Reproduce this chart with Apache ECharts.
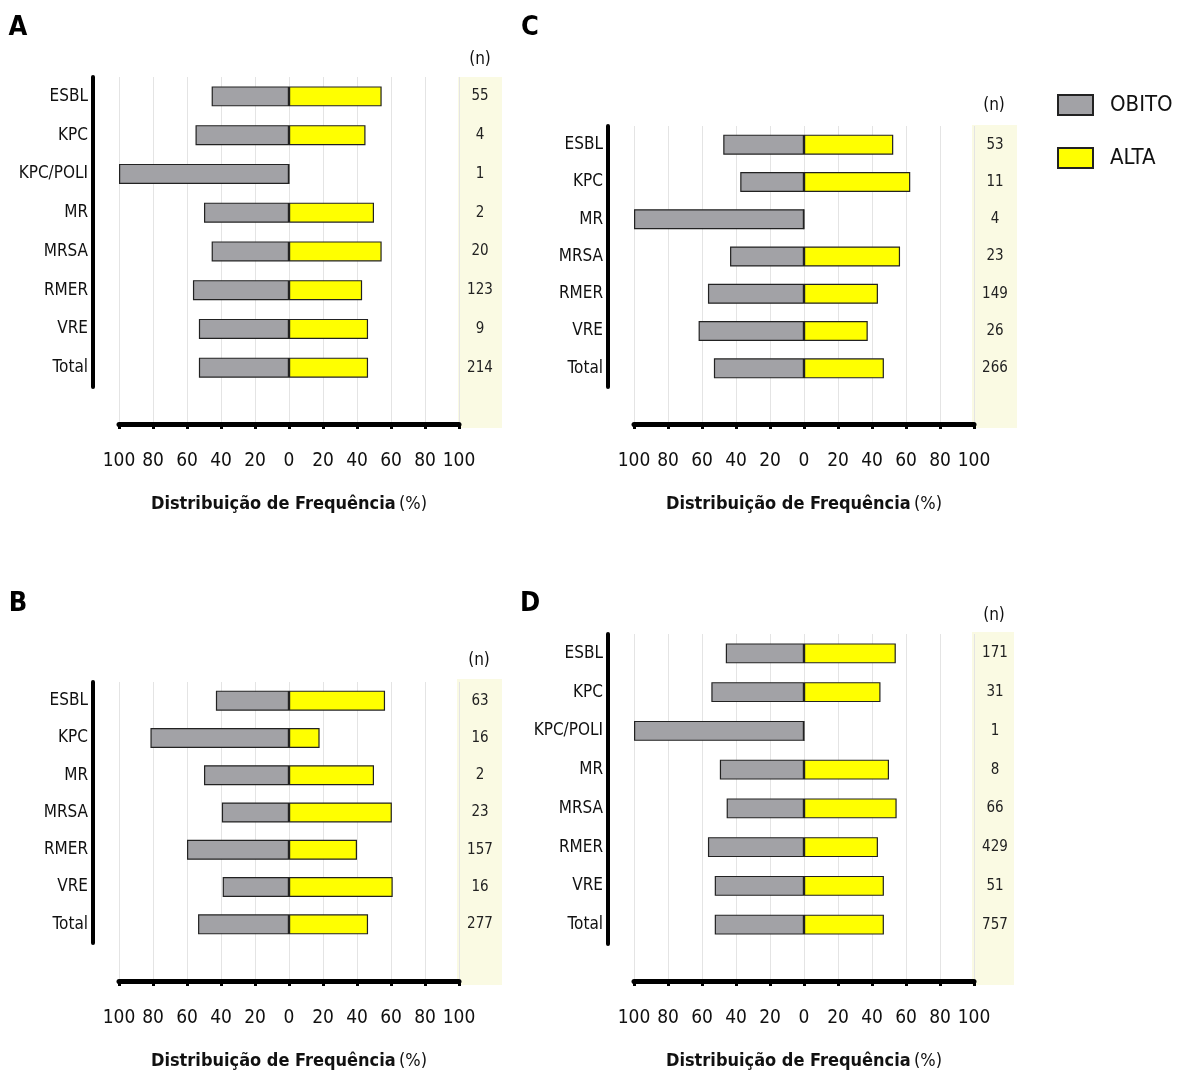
<!DOCTYPE html>
<html><head><meta charset="utf-8">
<script src="https://cdn.jsdelivr.net/npm/echarts@6/dist/echarts.min.js"></script>
<style>html,body{margin:0;padding:0;background:#fff}#c{width:1180px;height:1077px}</style>
</head><body><div id="c"></div>
<script>
// ---------- DATA ----------
const catsA = ['ESBL','KPC','KPC/POLI','MR','MRSA','RMER','VRE','Total'];
const obitoA = [45.5, 55, 100, 50, 45.5, 56.5, 53, 53];
const altaA  = [54.5, 45, 0, 50, 54.5, 43, 46.5, 46.5];
const nA     = [55, 4, 1, 2, 20, 123, 9, 214];

const catsB = ['ESBL','KPC','MR','MRSA','RMER','VRE','Total'];
const obitoB = [43, 81.5, 50, 39.5, 60, 39, 53.5];
const altaB  = [56.5, 18, 50, 60.5, 40, 61, 46.5];
const nB     = [63, 16, 2, 23, 157, 16, 277];

const catsC = ['ESBL','KPC','MR','MRSA','RMER','VRE','Total'];
const obitoC = [47.5, 37.5, 100, 43.5, 56.5, 62, 53];
const altaC  = [52.5, 62.5, 0, 56.5, 43.5, 37.5, 47];
const nC     = [53, 11, 4, 23, 149, 26, 266];

const catsD = ['ESBL','KPC','KPC/POLI','MR','MRSA','RMER','VRE','Total'];
const obitoD = [46, 54.5, 100, 49.5, 45.5, 56.5, 52.5, 52.5];
const altaD  = [54, 45, 0, 50, 54.5, 43.5, 47, 47];
const nD     = [171, 31, 1, 8, 66, 429, 51, 757];

const xTicks = [-100, 100, 20]; // min, max, interval
const seriesNames = ['OBITO', 'ALTA'];
const axisTitle = ['Distribuição de Frequência', '(%)'];

// ---------- LAYOUT ----------
const FONT = "'Liberation Sans Narrow','DejaVu Sans Condensed','Arial Narrow',sans-serif";
const GRAY = '#a2a2a6', YEL = '#ffff00', EDGE = '#222';

const panels = [
  {letter:'A', cats:catsA, ob:obitoA, al:altaA, n:nA, left:119, top:77, h:310, axisY:424, shade:[458,77,44,351], nHead:[480,60], lt:[18,28]},
  {letter:'B', cats:catsB, ob:obitoB, al:altaB, n:nB, left:119, top:682, h:261, axisY:981, shade:[457,679,45,306], nHead:[479,661], lt:[18,604]},
  {letter:'C', cats:catsC, ob:obitoC, al:altaC, n:nC, left:634, top:126, h:261, axisY:424, shade:[972,125,45,303], nHead:[994,106], lt:[530,28]},
  {letter:'D', cats:catsD, ob:obitoD, al:altaD, n:nD, left:634, top:634, h:310, axisY:981, shade:[972,632,42,353], nHead:[994,616], lt:[530,604]}
];

const grid = [], xAxis = [], yAxis = [], series = [], graphic = [];
panels.forEach(p => {
  const gMain = grid.length;
  grid.push({left:p.left, top:p.top, width:340, height:p.h, containLabel:false});
  const gLow = grid.length;
  grid.push({left:p.left, top:p.top+p.h, width:340, height:p.axisY-(p.top+p.h)});
  const gShade = grid.length;
  grid.push({left:p.shade[0], top:p.shade[1], width:p.shade[2], height:p.shade[3], show:true, backgroundColor:'#fafae3', borderWidth:0});

  // main grid axes
  const xMain = xAxis.length;
  xAxis.push({gridIndex:gMain, type:'value', min:xTicks[0], max:xTicks[1], interval:xTicks[2],
    axisLine:{show:false}, axisTick:{show:false}, axisLabel:{show:false},
    splitLine:{show:true, lineStyle:{color:'#e4e4e4', width:1}}});
  const yMain = yAxis.length;
  yAxis.push({gridIndex:gMain, type:'category', data:p.cats, inverse:true, offset:26, position:'left',
    axisLine:{show:true, onZero:false, lineStyle:{color:'#000', width:4}}, axisTick:{show:false},
    axisLabel:{color:'#111', fontSize:17, fontFamily:FONT, margin:5}, splitLine:{show:false}});
  yAxis.push({gridIndex:gMain, type:'category', data:p.cats, inverse:true, position:'right',
    axisLine:{show:false, onZero:false}, axisTick:{show:false},
    axisLabel:{color:'#222', fontSize:15, fontFamily:FONT, margin:21, align:'center',
      formatter:(v, i) => String(p.n[i])}});

  // lower grid: bottom axis
  xAxis.push({gridIndex:gLow, type:'value', min:xTicks[0], max:xTicks[1], interval:xTicks[2], position:'bottom',
    axisLine:{show:true, lineStyle:{color:'#000', width:5}},
    axisTick:{show:true, length:5, lineStyle:{color:'#000', width:3}},
    minorTick:{show:true, splitNumber:2, length:3, lineStyle:{color:'#000', width:2}},
    axisLabel:{color:'#111', fontSize:19, fontFamily:FONT, margin:28, formatter:v => String(Math.abs(v))},
    splitLine:{show:true, lineStyle:{color:'#e4e4e4', width:1}},
    name:'{b|' + axisTitle[0] + '} {r|' + axisTitle[1] + '}', nameLocation:'middle', nameGap:71,
    nameTextStyle:{rich:{b:{fontWeight:'bold', fontSize:18, fontFamily:FONT, color:'#111'},
                         r:{fontSize:18, fontFamily:FONT, color:'#111'}}}});
  yAxis.push({gridIndex:gLow, type:'value', show:false});

  // shade grid (hidden axes)
  xAxis.push({gridIndex:gShade, type:'value', show:false});
  yAxis.push({gridIndex:gShade, type:'value', show:false});

  series.push({name:seriesNames[0], type:'bar', xAxisIndex:xMain, yAxisIndex:yMain,
    data:p.ob.map(v => -v), barWidth:20, barGap:'-100%',
    itemStyle:{color:GRAY, borderColor:EDGE, borderWidth:1.2}});
  series.push({name:seriesNames[1], type:'bar', xAxisIndex:xMain, yAxisIndex:yMain,
    data:p.al, barWidth:20, barGap:'-100%',
    itemStyle:{color:YEL, borderColor:EDGE, borderWidth:1.2}});

  graphic.push({type:'text', x:p.nHead[0], y:p.nHead[1], style:{text:'(n)', align:'center', verticalAlign:'middle',
    font:"17px " + FONT, fill:'#111'}});
  graphic.push({type:'text', x:p.lt[0], y:p.lt[1], style:{text:p.letter, align:'center', verticalAlign:'middle',
    font:"bold 27px " + FONT, fill:'#000'}});
});

const chart = echarts.init(document.getElementById('c'), null, {renderer:'canvas'});
chart.setOption({
  animation:false,
  backgroundColor:'#fff',
  grid, xAxis, yAxis, series, graphic,
  legend:{data:seriesNames, orient:'vertical', left:1052, top:89, itemWidth:35, itemHeight:20, itemGap:31,
    icon:'rect', textStyle:{fontSize:22, fontFamily:FONT, color:'#111', padding:[0,0,0,12]}}
});
</script></body></html>
